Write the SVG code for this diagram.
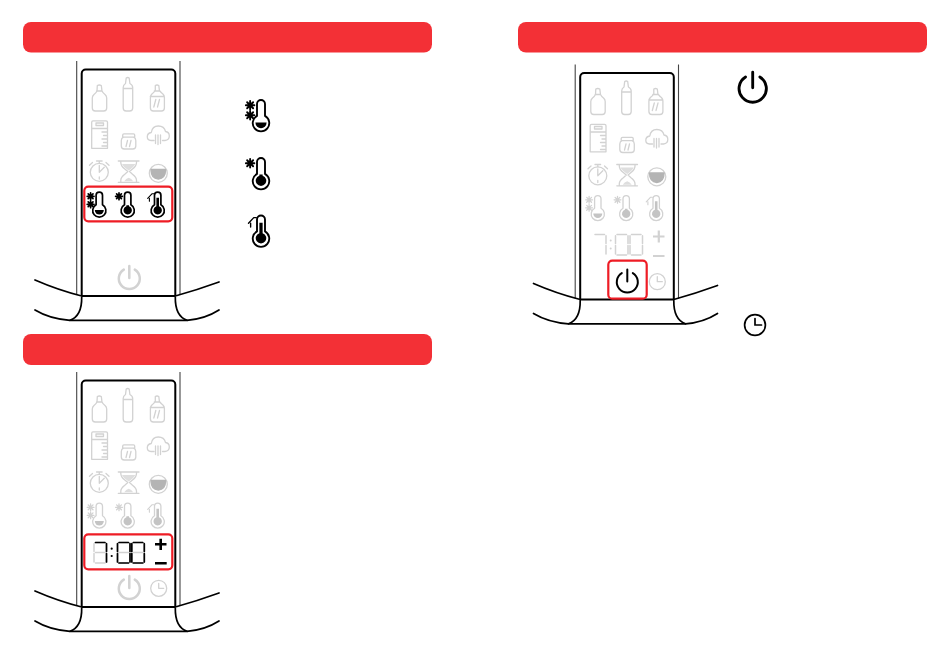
<svg xmlns="http://www.w3.org/2000/svg" xmlns:xlink="http://www.w3.org/1999/xlink" width="950" height="670" viewBox="0 0 950 670">
<style>
.bar{fill:#f33036}
.hl{fill:none;stroke:#ee1c25;stroke-width:2.200}
.g{fill:none;stroke:#d2d2d2;stroke-width:1.300;stroke-linecap:round;stroke-linejoin:round}
.k{fill:none;stroke:#000;stroke-width:1.700;stroke-linecap:round;stroke-linejoin:round}
.body{fill:none;stroke:#000;stroke-width:1.700;stroke-linecap:round;stroke-linejoin:round}
.inner{fill:none;stroke:#000;stroke-width:2;stroke-linejoin:round}
.bodyg{fill:none;stroke:#444;stroke-width:1.100}
.sand{fill:#dedede;stroke:none}
.soup{fill:#b4b4b4;stroke:#b4b4b4}
</style>
<defs>
<g id="housing">
<path class="bodyg" d="M76.700 61V295M180 61V295"/>
<path class="inner" d="M81.700 296V73.500a4 4 0 0 1 4-4h85.600a4 4 0 0 1 4 4V296M81.700 296H175.300"/>
<path class="body" d="M35 280Q58 290 81.700 296M219 282Q197 290 175.300 296"/>
<path class="body" d="M35 310Q50 319 70 320.300H187Q205 319 219 310"/>
<path class="body" d="M81.700 297Q82 316 70 320.300M175.300 297Q175 316 187 320.300"/>
</g>
<g id="foods">
<path d="M97.300 85.500q2-1 4 0l.7 5.500q1 2 3 3.500q1.700 1.500 1.700 3.500v10q0 3-3 3h-8.400q-3 0-3-3v-10q0-2 1.700-3.500q2-1.500 3-3.500zM96.600 91h5.400"/>
<path d="M126.200 78q1.500-1 3 0l.7 5.500q2.800 1.500 2.800 4v20.500q0 3-3 3h-3.500q-3 0-3-3V87.500q0-2.500 2.300-4zM124.200 88.500h8.500"/>
<path d="M155.300 85.500q1.700-1 3.500 0l.6 5q2 2.500 3.500 3.500q1.500 1.500 1.500 3.500v10.500q0 3-3 3h-8q-3 0-3-3V97.500q0-2 1.500-3.500q2-1.500 3.400-3.500zM154.300 91h5.500M150.300 96.500h14M153.800 107l2-7.500M157.500 107l2-7.500"/>
<path d="M93 120.800h13q1.500 0 1.500 1.500V148.300H91.700V122.300q0-1.500 1.300-1.500zM96 123h7.500v2.500H96zM91.700 128.500h15.800M107 132h-5M107 135.500h-3.500M107 139h-5M107 142.500h-3.500M107 146h-5"/>
<path d="M124 133.800h9.500q1.200 0 1.200 1.200v2.200h-12V135q0-1.200 1.300-1.200zM123.500 137.200q-2.200 1-2.200 3.300v5.500q0 3 3 3h8.500q3 0 3-3v-5.500q0-2.300-2.200-3.300M126 146.500l1.500-6M129.500 146.500l1.500-6"/>
<path d="M154 140.500h-3q-3.700 0-3.700-3.700t4-4.300q1-6.500 7-6.500t7.200 5.500q3.800.5 3.800 4.500t-4.300 4.500h-2.500M155.500 135v8.500M158 135v9.500M160.500 135v8.500"/>
<circle cx="99.300" cy="172.300" r="9"/>
<path d="M96.500 161h5.600M99.300 161v2.300M92.500 162.500l-3 2.800M106 162.500l3 2.800M99.300 172.300V165.500M99.300 172.300l5-5M99.300 177v2"/>
<path d="M118.300 161h20.700M118.300 182.300h20.700M120.800 161v1.500q0 3.500 4 6.500l3 2.600-3 2.600q-4 3-4 6v1.600M136.500 161v1.500q0 3.500-4 6.500l-3 2.600 3 2.600q4 3 4 6v1.600"/>
<path class="sand" d="M122 164h13.300q-1.500 3-6.600 6.500q-5.200-3.500-6.700-6.500zM124.200 181.200q1.800-3 4.500-3.500q2.700.5 4.500 3.500z"/>
<circle cx="158.300" cy="173.300" r="9"/>
<path class="soup" d="M151 169.500h14.600q0 9-7.300 9.500q-7.300-.5-7.300-9.500z"/>
</g>
<g id="flake">
<path d="M-3.400 0H3.400M0-3.400V3.400M-2.400-2.400L2.400 2.400M-2.400 2.400L2.400-2.400"/>
</g>
<path id="tube" d="M-3.200-4.500V-14a3.200 3.200 0 0 1 6.400 0V-4.500A6.600 6.600 0 1 1-3.200-4.500Z"/>
<g id="t1">
<use xlink:href="#tube" href="#tube" fill="none"/>
<path d="M-4.500 0.800H4.500A4.500 4.500 0 0 1-4.500 0.800Z" style="fill:var(--f)" stroke="none"/>
<use xlink:href="#flake" href="#flake" x="-8.700" y="-13"/>
<use xlink:href="#flake" href="#flake" x="-8.700" y="-5"/>
</g>
<g id="t2">
<use xlink:href="#tube" href="#tube" fill="none"/>
<path d="M-1.300-4H1.300V-3A4.200 4.200 0 1 1-1.300-3Z" style="fill:var(--f)" stroke="none"/>
<use xlink:href="#flake" href="#flake" x="-8.700" y="-13"/>
</g>
<g id="t3">
<use xlink:href="#tube" href="#tube" fill="none"/>
<path d="M-1.300-11.500H1.300V-3A4.200 4.200 0 1 1-1.300-3Z" style="fill:var(--f)" stroke="none"/>
<path d="M-3.800-15.500H-5.800L-10-11M-8.300-11V-8" style="stroke-width:1.100"/>
</g>
<g id="power">
<path d="M-5.500-8.900A10.500 10.500 0 1 0 5.500-8.900M0-12.500V-0.500"/>
</g>
<g id="clock">
<circle r="8"/><path d="M0-5V0H5"/>
</g>
<g id="seg8">
<path d="M1.500 0H11M0 1.200V9M12.500 1.200V9M1.500 10H11M0 11V19.500M12.500 11V19.500M1.500 20.500H11"/>
</g>
<g id="seg7">
<path d="M1.500 0H11M12.500 1.200V9M12.500 11V19.500"/>
</g>
<g id="seg0">
<path d="M1.500 0H11M0 1.200V9M12.500 1.200V9M0 11V19.500M12.500 11V19.500M1.500 20.500H11"/>
</g>
</defs>

<g id="header-1"><rect class="bar" x="23" y="22" width="409" height="30.500" rx="8"/></g>
<g id="header-2"><rect class="bar" x="23" y="334" width="409" height="31" rx="8"/></g>
<g id="header-3"><rect class="bar" x="518" y="22" width="409" height="30.500" rx="8"/></g>

<g id="panel-1">
<use xlink:href="#housing" href="#housing"/>
<use xlink:href="#foods" href="#foods" class="g"/>
<g class="k" style="--f:#000">
<use xlink:href="#t1" href="#t1" x="99.300" y="209.300"/>
<use xlink:href="#t2" href="#t2" x="127.700" y="209.300"/>
<use xlink:href="#t3" href="#t3" x="157.700" y="209.300"/>
</g>
<rect class="hl" x="84.300" y="186.700" width="88" height="34.600" rx="4"/>
<g class="g" style="stroke-width:2.500"><use xlink:href="#power" href="#power" x="129.300" y="278.500"/></g>
</g>

<g id="panel-2" transform="translate(0 311)">
<use xlink:href="#housing" href="#housing"/>
<use xlink:href="#foods" href="#foods" class="g"/>
<g class="g" style="--f:#c4c4c4">
<use xlink:href="#t1" href="#t1" x="99.300" y="209.300"/>
<use xlink:href="#t2" href="#t2" x="127.700" y="209.300"/>
<use xlink:href="#t3" href="#t3" x="157.700" y="209.300"/>
</g>
<rect class="hl" x="84.300" y="223.300" width="88" height="35" rx="4"/>
<g class="g" style="stroke-width:1.500">
<use xlink:href="#seg8" href="#seg8" x="94" y="231.500"/>
<use xlink:href="#seg8" href="#seg8" x="117.500" y="231.500"/>
<use xlink:href="#seg8" href="#seg8" x="131.800" y="231.500"/>
</g>
<g class="k" style="stroke-width:1.700">
<use xlink:href="#seg7" href="#seg7" x="94" y="231.500"/>
<use xlink:href="#seg0" href="#seg0" x="117.500" y="231.500"/>
<use xlink:href="#seg0" href="#seg0" x="131.800" y="231.500"/>
</g>
<circle cx="111.700" cy="237.700" r="1.100"/><circle cx="111.700" cy="245" r="1.100"/>
<path d="M155 233.300H166.500M160.700 227.700V239M155 252.300H166.700" fill="none" stroke="#000" stroke-width="2.600"/>
<g class="g" style="stroke-width:2.500"><use xlink:href="#power" href="#power" x="129.300" y="277.500"/></g>
<g class="g"><use xlink:href="#clock" href="#clock" x="158.700" y="277.300"/></g>
</g>

<g id="panel-3" transform="translate(498.500 3.500)">
<use xlink:href="#housing" href="#housing"/>
<use xlink:href="#foods" href="#foods" class="g"/>
<g class="g" style="--f:#c4c4c4">
<use xlink:href="#t1" href="#t1" x="99.300" y="209.300"/>
<use xlink:href="#t2" href="#t2" x="127.700" y="209.300"/>
<use xlink:href="#t3" href="#t3" x="157.700" y="209.300"/>
</g>
<g class="g" style="stroke-width:1.500">
<use xlink:href="#seg7" href="#seg7" x="95" y="231"/>
<use xlink:href="#seg0" href="#seg0" x="117" y="231"/>
<use xlink:href="#seg0" href="#seg0" x="131.500" y="231"/>
</g>
<circle cx="112.200" cy="237" r="1" fill="#d2d2d2"/><circle cx="112.200" cy="245" r="1" fill="#d2d2d2"/>
<path d="M154.500 233H166M160.300 227V239M154.500 252.500H166" fill="none" stroke="#d2d2d2" stroke-width="2.200"/>
<g fill="none" stroke="#000" stroke-width="2" stroke-linecap="round"><use xlink:href="#power" href="#power" x="128.800" y="278.500"/></g>
<rect class="hl" x="109.800" y="257.200" width="38.400" height="38" rx="4"/>
<g class="g"><use xlink:href="#clock" href="#clock" x="158.800" y="278.200"/></g>
</g>

<g id="legend-cold2" class="k" style="--f:#000;stroke-width:1.500"><use xlink:href="#t1" href="#t1" transform="translate(261 121.500) scale(1.250)"/></g>
<g id="legend-cold1" class="k" style="--f:#000;stroke-width:1.500"><use xlink:href="#t2" href="#t2" transform="translate(261 179.500) scale(1.250)"/></g>
<g id="legend-room" class="k" style="--f:#000;stroke-width:1.500"><use xlink:href="#t3" href="#t3" transform="translate(261 237) scale(1.250)"/></g>
<g id="legend-power" fill="none" stroke="#000" stroke-width="2.200" stroke-linecap="round"><use xlink:href="#power" href="#power" transform="translate(752.700 88.500) scale(1.300)"/></g>
<g id="legend-clock" fill="none" stroke="#000" stroke-width="1.300" stroke-linecap="round"><use xlink:href="#clock" href="#clock" transform="translate(755 325) scale(1.300)"/></g>
</svg>
